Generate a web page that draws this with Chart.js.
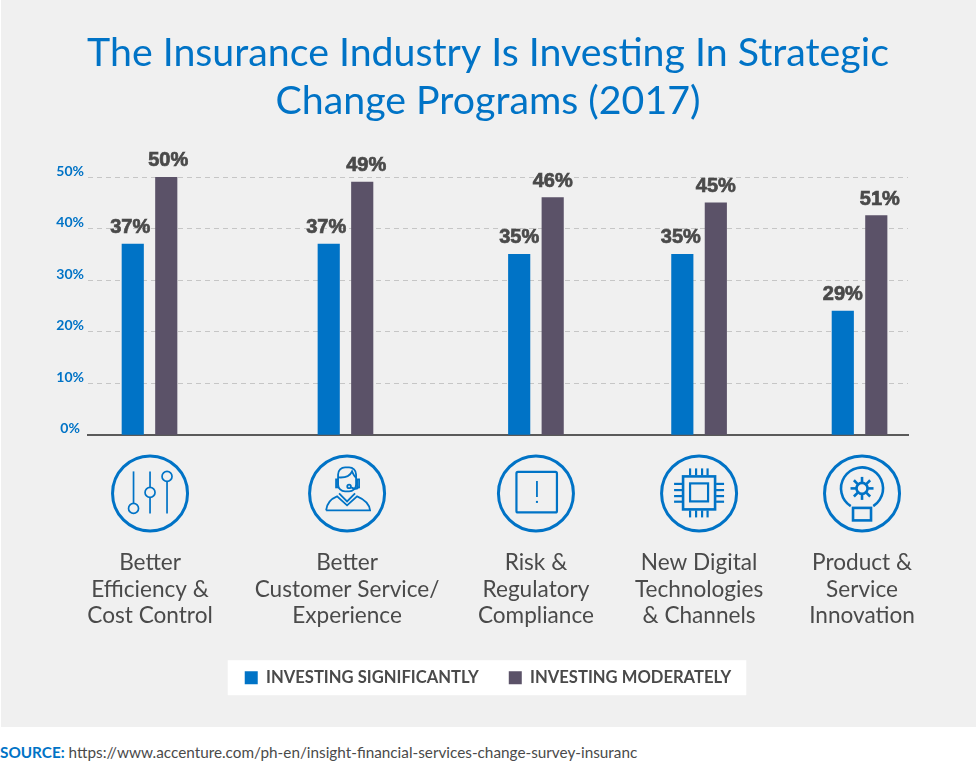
<!DOCTYPE html>
<html>
<head>
<meta charset="utf-8">
<title>Strategic Change Programs</title>
<script src="https://cdn.jsdelivr.net/npm/chart.js@4/dist/chart.umd.min.js"></script>
<style>
  html, body { margin: 0; padding: 0; background: #fff; }
  #panel { position: absolute; left: 1px; top: 0; width: 975px; height: 727px; background: #f0f0f0; }
  #chart { position: absolute; left: 0; top: 0; }
  #source { position: absolute; left: 0; top: 743px; font: 15.3px Lato, sans-serif; color: #4a4a4a; white-space: nowrap; }
  #source b { color: #0073c6; }
</style>
</head>
<body>
<div id="panel"></div>
<canvas id="chart" width="976" height="727"></canvas>
<div id="source"><b>SOURCE:</b> https://www.accenture.com/ph-en/insight-financial-services-change-survey-insuranc</div>
<script>
// ─── Data ──────────────────────────────────────────────────────────────────
const titleLines = ["The Insurance Industry Is Investing In Strategic", "Change Programs (2017)"];
const categories = [
  ["Better", "Efficiency &", "Cost Control"],
  ["Better", "Customer Service/", "Experience"],
  ["Risk &", "Regulatory", "Compliance"],
  ["New Digital", "Technologies", "& Channels"],
  ["Product &", "Service", "Innovation"],
];
const seriesNames = ["INVESTING SIGNIFICANTLY", "INVESTING MODERATELY"];
// Bar heights as drawn. The last group's printed labels do not match its bars.
const significant = [37, 37, 35, 35, 24];
const moderate = [50, 49, 46, 45, 42.5];
const significantLabels = ["37%", "37%", "35%", "35%", "29%"];
const moderateLabels = ["50%", "49%", "46%", "45%", "51%"];
const yTicks = [0, 10, 20, 30, 40, 50];

// The groups are unevenly spaced in the original, so x is a linear group axis
const groupSlots = [0, 1.104, 2.177, 3.096, 4];
const labelSlots = [0.003, 1.113, 2.177, 3.096, 4.014];

const BLUE = "#0073c6";
const PURPLE = "#5b5268";
const TEXT = "#4a4a4a";
const FONT = "Lato, sans-serif";

// The printed labels sit a little off-centre on some bars (px, per dataset)
const labelNudge = [[-2.5, -2.5, 0, -1.5, 0], [2, 4, 0, 0, 3.5]];

// ─── Icons ─────────────────────────────────────────────────────────────────
function line(ctx, x1, y1, x2, y2) {
  ctx.beginPath();
  ctx.moveTo(x1, y1);
  ctx.lineTo(x2, y2);
  ctx.stroke();
}

function knob(ctx, x, y) {
  ctx.beginPath();
  ctx.arc(x, y, 5, 0, Math.PI * 2);
  ctx.fillStyle = "#f0f0f0";
  ctx.fill();
  ctx.stroke();
}

const iconDrawers = [
  function sliders(ctx) {
    ctx.lineWidth = 1.7;
    [-16.5, 0, 17].forEach(x => line(ctx, x, -22, x, 20));
    knob(ctx, -16.5, 15);
    knob(ctx, 0, -1);
    knob(ctx, 17, -17);
  },
  function agent(ctx) {
    ctx.lineWidth = 1.8;
    ctx.beginPath();
    ctx.roundRect(-9, -26, 18, 24, 7);
    ctx.stroke();
    ctx.beginPath();
    ctx.moveTo(-9, -16);
    ctx.quadraticCurveTo(2, -15, 5, -22);
    ctx.quadraticCurveTo(7, -17, 9, -16);
    ctx.stroke();
    ctx.strokeRect(-11, -14, 2, 8);
    ctx.strokeRect(10, -14, 2, 8);
    ctx.beginPath();
    ctx.moveTo(11, -6);
    ctx.quadraticCurveTo(10, -3, 4, -6);
    ctx.stroke();
    ctx.beginPath();
    ctx.arc(2, -7, 1.8, 0, Math.PI * 2);
    ctx.stroke();
    ctx.beginPath();
    ctx.moveTo(-21, 17);
    ctx.lineTo(23, 17);
    ctx.quadraticCurveTo(22, 8, 10, 3);
    ctx.lineTo(0, 12);
    ctx.lineTo(-10, 3);
    ctx.quadraticCurveTo(-20, 7, -21, 17);
    ctx.stroke();
    ctx.beginPath();
    ctx.moveTo(-8, 0);
    ctx.lineTo(0, 8);
    ctx.lineTo(8, 0);
    ctx.stroke();
  },
  function alert(ctx) {
    ctx.lineWidth = 2.2;
    ctx.beginPath();
    ctx.roundRect(-19.5, -21.5, 40.5, 40.5, 1.5);
    ctx.stroke();
    ctx.lineWidth = 1.8;
    line(ctx, 1, -12.5, 1, 3.5);
    ctx.fillStyle = BLUE;
    ctx.fillRect(0, 7.5, 2, 2);
  },
  function chip(ctx) {
    ctx.lineWidth = 2.6;
    ctx.strokeRect(-16, -17, 32, 33);
    ctx.lineWidth = 2.2;
    ctx.strokeRect(-9, -10, 18, 18);
    [-9, -3, 3, 8.5].forEach(x => {
      line(ctx, x, -25, x, -18);
      line(ctx, x, 17, x, 24);
    });
    [-9.5, -3.3, 2.7, 8.3].forEach(y => {
      line(ctx, -25, y, -17, y);
      line(ctx, 17, y, 25, y);
    });
  },
  function bulb(ctx) {
    ctx.lineWidth = 2.6;
    ctx.beginPath();
    ctx.arc(0, -5, 21, Math.PI * 0.68, Math.PI * 0.32);
    ctx.stroke();
    ctx.strokeRect(-9, 14.5, 18, 12.5);
    ctx.beginPath();
    ctx.arc(0, -5, 5.5, 0, Math.PI * 2);
    ctx.stroke();
    for (let i = 0; i < 8; i++) {
      const a = i * Math.PI / 4;
      line(ctx, Math.cos(a) * 6, -5 + Math.sin(a) * 6, Math.cos(a) * 11.5, -5 + Math.sin(a) * 11.5);
    }
  },
];

// ─── Plugins ───────────────────────────────────────────────────────────────
// White box behind the legend entries
const legendBox = {
  id: "legendBox",
  beforeDraw(chart) {
    const boxes = chart.legend.legendHitBoxes;
    const { ctx } = chart;
    const first = boxes[0];
    const last = boxes[boxes.length - 1];
    const midY = first.top + first.height / 2;
    ctx.save();
    ctx.fillStyle = "#fff";
    ctx.fillRect(first.left - 17, midY - 17.5, last.left + last.width + 15 - (first.left - 17), 35);
    ctx.restore();
  },
};

// Printed percentages above the bars
const barLabels = {
  id: "barLabels",
  afterDatasetsDraw(chart) {
    const { ctx } = chart;
    ctx.save();
    ctx.font = "bold 20px 'Liberation Sans', sans-serif";
    ctx.fillStyle = TEXT;
    ctx.strokeStyle = TEXT;
    ctx.lineWidth = 0.7;
    ctx.textAlign = "center";
    ctx.textBaseline = "middle";
    [significantLabels, moderateLabels].forEach((labels, d) => {
      chart.getDatasetMeta(d).data.forEach((bar, i) => {
        const x = bar.x + labelNudge[d][i];
        ctx.fillText(labels[i], x, bar.y - 16.5);
        ctx.strokeText(labels[i], x, bar.y - 16.5);
      });
    });
    ctx.restore();
  },
};

// Circled icons between the axis and the category labels
const categoryIcons = {
  id: "categoryIcons",
  afterDraw(chart) {
    const { ctx, scales } = chart;
    const cy = scales.y.getPixelForValue(0) + 58.5;
    labelSlots.forEach((slot, i) => {
      ctx.save();
      ctx.translate(scales.x.getPixelForValue(slot), cy);
      ctx.strokeStyle = BLUE;
      ctx.lineWidth = 3;
      ctx.lineCap = "butt";
      ctx.beginPath();
      ctx.arc(0, 0, 37.5, 0, Math.PI * 2);
      ctx.stroke();
      iconDrawers[i](ctx);
      ctx.restore();
    });
  },
};

// ─── Chart ─────────────────────────────────────────────────────────────────
function toPoints(values) {
  return values.map((y, i) => ({ x: groupSlots[i], y }));
}

new Chart(document.getElementById("chart"), {
  type: "bar",
  data: {
    datasets: [
      { label: seriesNames[0], data: toPoints(significant), backgroundColor: BLUE },
      { label: seriesNames[1], data: toPoints(moderate), backgroundColor: PURPLE },
    ],
  },
  plugins: [legendBox, barLabels, categoryIcons],
  options: {
    responsive: false,
    animation: false,
    devicePixelRatio: 1,
    layout: { padding: { bottom: 31 } },
    datasets: { bar: { barThickness: 33.5, maxBarThickness: 21.5 } },
    plugins: {
      tooltip: { enabled: false },
      title: {
        display: true,
        text: titleLines,
        color: BLUE,
        font: { family: FONT, size: 39.3, weight: "normal", lineHeight: 47.5 / 39.3 },
        padding: { top: 30, bottom: 52 },
      },
      legend: {
        display: true,
        position: "bottom",
        labels: {
          boxWidth: 13,
          boxHeight: 13,
          padding: 30,
          color: TEXT,
          font: { family: FONT, size: 16.6, weight: "bold" },
        },
      },
    },
    scales: {
      x: {
        type: "linear",
        offset: false,
        min: -0.3465,
        max: 4.273,
        grid: { display: false },
        border: { display: true, color: "#5a5a5a", width: 2 },
        afterBuildTicks(axis) {
          axis.ticks = labelSlots.map(value => ({ value }));
        },
        afterFit(axis) {
          axis.height = 204.5;
          // Edge labels must not pull the plot inwards
          axis.paddingLeft = 0;
          axis.paddingRight = 0;
        },
        ticks: {
          autoSkip: false,
          maxRotation: 0,
          padding: 107,
          color: TEXT,
          font: { family: FONT, size: 22.6, lineHeight: 26.5 / 22.6 },
          callback: (value, i) => categories[i],
        },
      },
      y: {
        min: 0,
        max: 50,
        afterBuildTicks(axis) {
          axis.ticks = yTicks.map(value => ({ value }));
        },
        afterFit(axis) {
          axis.width = 88;
        },
        border: { display: false, dash: [5, 4] },
        grid: {
          color: ctx => (ctx.tick.value === 0 ? "transparent" : "#c6c6c6"),
          lineWidth: 1,
          drawTicks: false,
        },
        ticks: {
          crossAlign: "center",
          padding: 4,
          labelOffset: -6,
          color: BLUE,
          font: { family: FONT, size: 14, weight: "bold" },
          callback: value => value + "%",
        },
      },
      // Empty right-hand axis: reserves the margin right of the plot while the
      // title and legend stay centred on the full canvas
      rightMargin: {
        type: "linear",
        position: "right",
        ticks: { display: false },
        grid: { display: false },
        border: { display: false },
        afterFit(axis) {
          axis.width = 68;
        },
      },
    },
  },
});
</script>
</body>
</html>
